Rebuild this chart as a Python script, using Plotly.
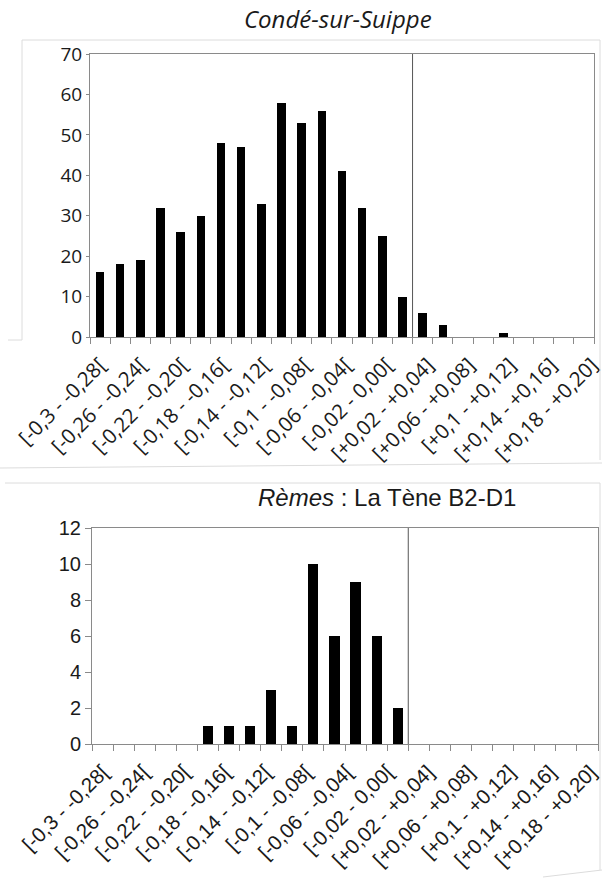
import numpy as np
import plotly.graph_objects as go

# Bin labels printed under each histogram (every second bin is labelled)
TICK_LABELS = [
    "[-0,3 - -0,28[", "[-0,26 - -0,24[", "[-0,22 - -0,20[", "[-0,18 - -0,16[",
    "[-0,14 - -0,12[", "[-0,1 - -0,08[", "[-0,06 - -0,04[", "[-0,02 - 0,00[",
    "[+0,02 - +0,04]", "[+0,06 - +0,08]", "[+0,1 - +0,12]", "[+0,14 - +0,16]",
    "[+0,18 - +0,20]",
]

# Counts per bin
CONDE_COUNTS = [16, 18, 19, 32, 26, 30, 48, 47, 33, 58, 53, 56, 41, 32, 25, 10,
                6, 3, 0, 0, 1, 0, 0, 0, 0]
REMES_COUNTS = [0, 0, 0, 0, 0, 1, 1, 1, 3, 1, 10, 6, 9, 6, 2,
                0, 0, 0, 0, 0, 0, 0, 0, 0]

CONDE_ZERO_EDGE = 15.5   # bin boundary carrying the vertical line
REMES_ZERO_EDGE = 14.5

W, H = 602, 882


def px_x(p):
    return p / W


def px_y(p):
    return 1 - p / H


fig = go.Figure()

GREY = "#8a8a8a"


def add_hist(counts, xa, ya, bar_width):
    n = len(counts)
    fig.add_trace(go.Bar(
        x=list(range(n)), y=counts, xaxis=xa, yaxis=ya,
        width=bar_width, marker=dict(color="black", line=dict(width=0)),
        showlegend=False, hoverinfo="x+y",
    ))


add_hist(CONDE_COUNTS, "x", "y", 0.42)
add_hist(REMES_COUNTS, "x2", "y2", 0.48)


def x_axis(n, domain, font, anchor, last_label_at):
    return dict(
        domain=domain, anchor=anchor, range=[-0.5, n - 0.5], automargin=False,
        tickmode="array",
        tickvals=list(np.linspace(0, last_label_at, len(TICK_LABELS))),
        ticktext=TICK_LABELS, tickangle=-45, ticks="", ticklen=0,
        ticklabeloverflow="allow", ticklabelstandoff=7,
        tickfont=font, showgrid=False, zeroline=False,
        showline=True, linecolor=GREY, linewidth=1, mirror=True,
        minor=dict(tickmode="array", tickvals=[i - 0.5 for i in range(n + 1)],
                   ticks="outside", ticklen=6, tickcolor=GREY, showgrid=False),
        fixedrange=True,
    )


def y_axis(domain, anchor, top, step, font, ticklen):
    return dict(domain=domain, anchor=anchor, range=[0, top], automargin=False,
                tickmode="linear", tick0=0, dtick=step, ticks="outside",
                ticklen=ticklen, tickcolor=GREY, tickfont=font,
                showgrid=False, zeroline=False, showline=True,
                linecolor=GREY, linewidth=1, mirror=True, fixedrange=True)


top_font = dict(family="Open Sans", size=20.5, color="#1a1a1a")
bot_font = dict(family="Liberation Sans", size=20.5, color="#1a1a1a")

fig.update_layout(
    width=W, height=H, margin=dict(l=0, r=0, t=0, b=0, autoexpand=False),
    paper_bgcolor="white", plot_bgcolor="white",
    bargap=0,
    xaxis=x_axis(len(CONDE_COUNTS), [px_x(90), px_x(594)], top_font, "y",
                 len(CONDE_COUNTS) - 0.6),
    yaxis=y_axis([px_y(337), px_y(54)], "x", 70, 10,
                 dict(family="Open Sans", size=19, color="#1a1a1a"), 3),
    xaxis2=x_axis(len(REMES_COUNTS), [px_x(92), px_x(598)], bot_font, "y2",
                  len(REMES_COUNTS) - 0.85),
    yaxis2=y_axis([px_y(744), px_y(528)], "x2", 12, 2,
                  dict(family="Liberation Sans", size=20, color="#1a1a1a"), 6),
)

# Vertical reference lines
fig.add_shape(type="line", xref="x", yref="y", x0=CONDE_ZERO_EDGE, x1=CONDE_ZERO_EDGE,
              y0=0, y1=70, line=dict(color="#555555", width=1))
fig.add_shape(type="line", xref="x2", yref="y2", x0=REMES_ZERO_EDGE, x1=REMES_ZERO_EDGE,
              y0=0, y1=12, line=dict(color="#555555", width=1))

# Faint chart-area frames and page edge
FRAME = "#dcdcdc"
for (x0, y0, x1, y1) in [
    (22, 40, 600, 40), (22, 40, 22, 340), (8, 340, 22, 340), (600, 40, 600, 460),
    (0, 468, 602, 463),
    (5, 483, 600, 483), (600, 483, 600, 870), (543, 877, 602, 870),
]:
    fig.add_shape(type="line", xref="paper", yref="paper",
                  x0=px_x(x0), x1=px_x(x1), y0=px_y(y0), y1=px_y(y1),
                  line=dict(color=FRAME, width=1))

# Titles
fig.add_annotation(text="<i>Condé-sur-Suippe</i>", xref="paper", yref="paper",
                   x=px_x(338), y=px_y(19), showarrow=False,
                   xanchor="center", yanchor="middle",
                   font=dict(family="Open Sans", size=24, color="#1a1a1a"))
fig.add_annotation(text="<i>Rèmes</i> : La Tène B2-D1", xref="paper", yref="paper",
                   x=px_x(387), y=px_y(498), showarrow=False,
                   xanchor="center", yanchor="middle",
                   font=dict(family="Liberation Sans", size=24, color="#1a1a1a"))

fig.write_html("out.html")
